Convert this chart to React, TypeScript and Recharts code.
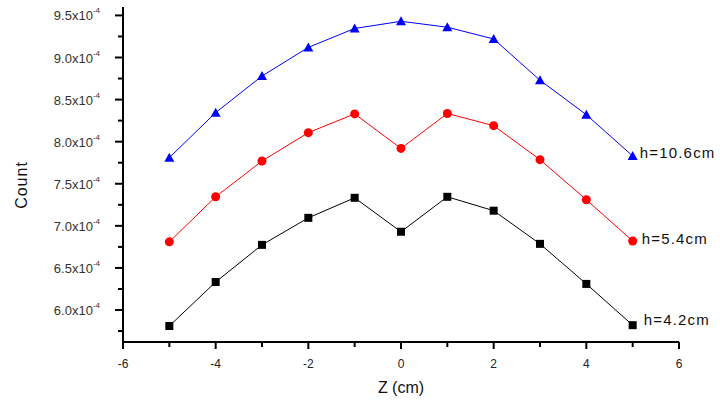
import { LineChart, Line, XAxis, YAxis, LabelList } from "recharts";

const zValues = [-5, -4, -3, -2, -1, 0, 1, 2, 3, 4, 5];
const h106 = [7.81e-4, 8.345e-4, 8.78e-4, 9.12e-4, 9.345e-4, 9.43e-4, 9.36e-4, 9.22e-4, 8.73e-4, 8.32e-4, 7.83e-4];
const h54 = [6.81e-4, 7.345e-4, 7.77e-4, 8.107e-4, 8.33e-4, 7.92e-4, 8.335e-4, 8.19e-4, 7.786e-4, 7.31e-4, 6.82e-4];
const h42 = [5.81e-4, 6.333e-4, 6.774e-4, 7.095e-4, 7.333e-4, 6.93e-4, 7.345e-4, 7.18e-4, 6.786e-4, 6.31e-4, 5.82e-4];
const seriesNames = ["h=10.6cm", "h=5.4cm", "h=4.2cm"];

const xTicks = [-6, -5, -4, -3, -2, -1, 0, 1, 2, 3, 4, 5, 6];
const yTicks = [5.75e-4, 6.0e-4, 6.25e-4, 6.5e-4, 6.75e-4, 7.0e-4, 7.25e-4, 7.5e-4, 7.75e-4, 8.0e-4, 8.25e-4, 8.5e-4, 8.75e-4, 9.0e-4, 9.25e-4, 9.5e-4];

const data = zValues.map((z, i) => ({ z, a: h106[i], b: h54[i], c: h42[i] }));

const FONT = "'Liberation Sans', Arial, sans-serif";

function XTick(props: any) {
  const { x, y, payload } = props;
  const v = payload.value;
  const major = v % 2 === 0;
  return (
    <g>
      <line x1={x} y1={y} x2={x} y2={y + (major ? 7 : 5)} stroke="#000" strokeWidth={2} />
      {major && (
        <text x={x} y={y + 26} textAnchor="middle" fontSize={12} fill="#222" fontFamily={FONT}>
          {v}
        </text>
      )}
    </g>
  );
}

function YTick(props: any) {
  const { x, y, payload } = props;
  const v = payload.value * 2e4;
  const major = Math.abs(v - Math.round(v)) < 1e-6;
  return (
    <g>
      <line x1={x} y1={y} x2={x - (major ? 8 : 5)} y2={y} stroke="#000" strokeWidth={2} />
      {major && (
        <text x={x - 23} y={y + 5} textAnchor="end" fontSize={13} fill="#333" fontFamily={FONT}>
          {(payload.value * 1e4).toFixed(1)}x10
          <tspan fontSize={8} dy={-7}>-4</tspan>
        </text>
      )}
    </g>
  );
}

function Triangle(props: any) {
  const { cx, cy } = props;
  return <path d={`M${cx},${cy - 5} L${cx + 5},${cy + 4} L${cx - 5},${cy + 4} Z`} fill="#0000ff" />;
}

function Circle(props: any) {
  const { cx, cy } = props;
  return <circle cx={cx} cy={cy} r={4.5} fill="#ff0000" />;
}

function Square(props: any) {
  const { cx, cy } = props;
  return <rect x={cx - 4} y={cy - 4} width={8} height={8} fill="#000" />;
}

function endLabel(name: string, dx: number, dy: number) {
  return (props: any) => {
    const { x, y, index } = props;
    if (index !== zValues.length - 1) return null;
    return (
      <text x={x + dx} y={y + dy} fontSize={15} letterSpacing={1.2} fill="#111" fontFamily={FONT}>
        {name}
      </text>
    );
  };
}

export default function App() {
  return (
    <div style={{ position: "absolute", left: 0, top: 0, background: "#fff" }}>
      <LineChart width={720} height={405} data={data} margin={{ top: 7, right: 41, left: 0, bottom: 0 }}>
        <XAxis
          dataKey="z"
          type="number"
          domain={[-6, 6]}
          ticks={xTicks}
          interval={0}
          height={63}
          tickSize={0}
          tickMargin={0}
          tickLine={false}
          tick={<XTick />}
          axisLine={{ stroke: "#000", strokeWidth: 2 }}
          label={{ value: "Z (cm)", position: "insideBottom", offset: 12, fontSize: 16, fill: "#111", fontFamily: FONT }}
        />
        <YAxis
          type="number"
          domain={[5.62e-4, 9.6e-4]}
          ticks={yTicks}
          interval={0}
          width={123}
          tickSize={0}
          tickMargin={0}
          tickLine={false}
          tick={<YTick />}
          axisLine={{ stroke: "#000", strokeWidth: 2 }}
          label={(p: any) => (
            <text
              x={27}
              y={185}
              transform="rotate(-90 27 185)"
              textAnchor="middle"
              fontSize={16}
              letterSpacing={1}
              fill="#111"
              fontFamily={FONT}
            >
              Count
            </text>
          )}
        />
        <Line dataKey="a" stroke="#0000ff" strokeWidth={1} dot={<Triangle />} isAnimationActive={false}>
          <LabelList dataKey="a" content={endLabel(seriesNames[0], 7, 2)} />
        </Line>
        <Line dataKey="b" stroke="#ff0000" strokeWidth={1} dot={<Circle />} isAnimationActive={false}>
          <LabelList dataKey="b" content={endLabel(seriesNames[1], 9, 3)} />
        </Line>
        <Line dataKey="c" stroke="#000" strokeWidth={1} dot={<Square />} isAnimationActive={false}>
          <LabelList dataKey="c" content={endLabel(seriesNames[2], 11, 0)} />
        </Line>
      </LineChart>
    </div>
  );
}
